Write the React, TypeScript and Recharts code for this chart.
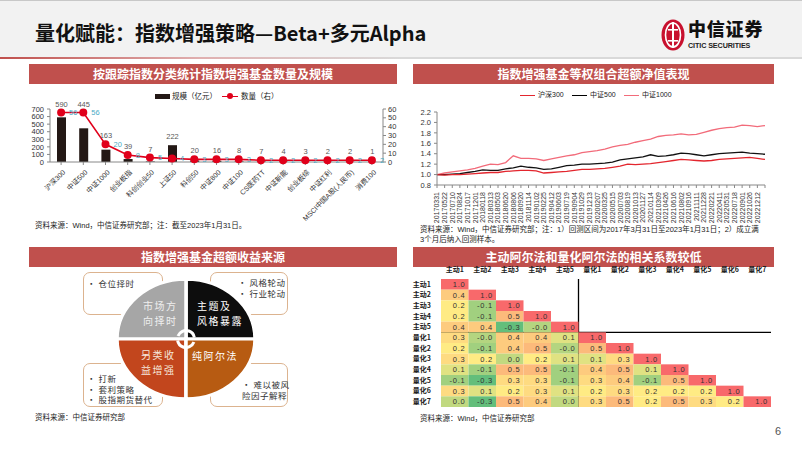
import React from 'react';
import {
  ComposedChart, Bar, Line, XAxis, YAxis, LineChart, ScatterChart, Scatter,
  PieChart, Pie, Cell, ReferenceLine, LabelList,
} from 'recharts';

const FONT = '"Liberation Sans", "Noto Sans CJK SC", sans-serif';
const CJK = '"Noto Sans CJK SC", "Liberation Sans", sans-serif';
const BAND = '#c0504d';

// ---- panel 1: funds by tracked index ----
const indexNames = ['沪深300', '中证500', '中证1000', '创业板指', '科创创业50', '上证50', '科创50', '中证800', '中证100', 'CS医药TT', '中证新能', '创业板综', '中证红利', 'MSCI中国A股(人民币)', '消费100'];
const fundScale = [590, 445, 163, 39, 7, 222, 20, 16, 8, 7, 4, 3, 2, 2, 1];
const fundCount = [56, 56, 20, 8, 5, 4, 3, 3, 3, 2, 2, 2, 2, 2, 2];
const scaleTicks = [0, 100, 200, 300, 400, 500, 600, 700];
const countTicks = [0, 10, 20, 30, 40, 50, 60];

// ---- panel 2: equal-weight excess NAV ----
const navDates = ['20170331', '20170522', '20170710', '20170824', '20171017', '20171201', '20180118', '20180313', '20180503', '20180620', '20180806', '20180920', '20181114', '20190102', '20190225', '20190412', '20190603', '20190719', '20190904', '20191029', '20191213', '20200207', '20200325', '20200515', '20200703', '20200819', '20201013', '20201127', '20210114', '20210309', '20210426', '20210616', '20210802', '20210916', '20211111', '20211228', '20220221', '20220411', '20220531', '20220718', '20220901', '20221026', '20221212', '20230131'];
const navHs300 = [1.00, 0.99, 1.00, 1.00, 1.01, 1.02, 1.03, 1.04, 1.04, 1.06, 1.07, 1.08, 1.08, 1.07, 1.03, 1.04, 1.05, 1.06, 1.08, 1.10, 1.10, 1.11, 1.12, 1.14, 1.16, 1.20, 1.19, 1.20, 1.21, 1.23, 1.25, 1.27, 1.29, 1.28, 1.27, 1.26, 1.27, 1.29, 1.30, 1.31, 1.32, 1.33, 1.31, 1.29];
const navZz500 = [1.00, 1.00, 1.01, 1.02, 1.04, 1.06, 1.09, 1.08, 1.08, 1.11, 1.13, 1.16, 1.14, 1.13, 1.10, 1.11, 1.14, 1.17, 1.18, 1.20, 1.20, 1.21, 1.22, 1.24, 1.28, 1.30, 1.32, 1.34, 1.38, 1.35, 1.36, 1.38, 1.41, 1.40, 1.38, 1.36, 1.38, 1.40, 1.41, 1.42, 1.43, 1.41, 1.40, 1.39];
const navZz1000 = [1.00, 1.03, 1.05, 1.07, 1.09, 1.12, 1.16, 1.20, 1.19, 1.23, 1.36, 1.31, 1.31, 1.30, 1.27, 1.30, 1.33, 1.36, 1.38, 1.42, 1.44, 1.46, 1.49, 1.53, 1.56, 1.58, 1.62, 1.65, 1.68, 1.73, 1.75, 1.76, 1.78, 1.76, 1.77, 1.81, 1.85, 1.88, 1.90, 1.91, 1.95, 1.94, 1.92, 1.94];
const navTicks = [0.8, 1.0, 1.2, 1.4, 1.6, 1.8, 2.0, 2.2];

// ---- panel 3: sources of excess return ----
const quadrants = ['主题及风格暴露', '市场方向择时', '另类收益增强', '纯阿尔法'];
const quadrantShare = [1, 1, 1, 1];
const quadrantColors = ['#0d0d0d', '#a6a6a6', '#c2461d', '#b75b12'];

// ---- panel 4: correlation matrix ----
const fundLabels = ['主动1', '主动2', '主动3', '主动4', '主动5', '量化1', '量化2', '量化3', '量化4', '量化5', '量化6', '量化7'];
const corrRows = [
  [1.0],
  [0.4, 1.0],
  [0.2, -0.1, 1.0],
  [0.2, -0.1, 0.5, 1.0],
  [0.4, 0.4, -0.3, -0.04, 1.0],
  [0.3, -0.04, 0.4, 0.4, 0.1, 1.0],
  [0.2, -0.1, 0.4, 0.5, -0.04, 0.5, 1.0],
  [0.3, 0.2, 0.0, 0.2, 0.1, 0.1, 0.3, 1.0],
  [0.1, -0.1, 0.5, 0.5, -0.1, 0.4, 0.5, 0.1, 1.0],
  [-0.1, -0.3, 0.3, 0.3, -0.1, 0.3, 0.4, -0.1, 0.5, 1.0],
  [0.3, 0.1, 0.2, 0.3, 0.1, 0.2, 0.3, 0.2, 0.2, 0.2, 1.0],
  [0.0, -0.3, 0.5, 0.4, 0.0, 0.3, 0.5, 0.2, 0.5, 0.3, 0.2, 1.0],
];

const barData = indexNames.map((name, i) => ({ name, scale: fundScale[i], count: fundCount[i] }));
const navData = navDates.map((date, i) => ({ date, hs300: navHs300[i], zz500: navZz500[i], zz1000: navZz1000[i] }));
const corrData = corrRows.flatMap((row, r) => row.map((v, c) => ({ x: c + 0.5, y: r + 0.5, v })));
const pieData = quadrants.map((name, i) => ({ name, value: quadrantShare[i] }));

// bar chart geometry
const B_W = 385, B_H = 138, B_TOP = 21, B_XH = 64;
const B_PH = B_H - B_TOP - B_XH;

// heatmap geometry
const H_W = 371, H_H = 145, H_YW = 36, H_XH = 12, H_MT = 5, H_MR = 5;
const CELL_W = (H_W - H_YW - H_MR) / 12;
const CELL_H = (H_H - H_MT - H_XH) / 12;

const mix = (a: number[], b: number[], t: number) =>
  `rgb(${a.map((v, i) => Math.round(v + (b[i] - v) * t)).join(',')})`;
const heatColor = (v: number) => {
  const green = [99, 190, 123], yellow = [255, 235, 132], red = [248, 105, 107];
  const mid = 0.2;
  if (v <= mid) return mix(green, yellow, (v + 0.3) / (mid + 0.3));
  return mix(yellow, red, (v - mid) / (1 - mid));
};

const abs = (left: number, top: number, extra: React.CSSProperties = {}): React.CSSProperties => ({
  position: 'absolute', left, top, ...extra,
});

const Band = ({ left, top, width, text }: { left: number; top: number; width: number; text: string }) => (
  <div style={abs(left, top, { width, height: 20, background: BAND, color: '#fff', fontFamily: CJK, fontWeight: 700, fontSize: 12, lineHeight: '20px', textAlign: 'center' })}>
    {text}
  </div>
);

const Note = ({ left, top, children }: { left: number; top: number; children: React.ReactNode }) => (
  <div style={abs(left, top, { fontFamily: FONT, fontSize: 7.5, color: '#222', lineHeight: '10px', whiteSpace: 'nowrap' })}>{children}</div>
);

const IndexTick = ({ x, y, payload }: any) => (
  <g transform={`translate(${x + 3},${y + 4}) rotate(-45)`}>
    <text x={0} y={0} dy="0.35em" textAnchor="end" fontSize={7} fill="#333" fontFamily={FONT}>{payload.value}</text>
  </g>
);

const DateTick = ({ x, y, payload, index }: any) =>
  index === navDates.length - 1 ? null : (
    <g transform={`translate(${x},${y + 2}) rotate(-90)`}>
      <text x={0} y={0} dy="0.35em" textAnchor="end" fontSize={7} fill="#333" fontFamily={FONT}>{payload.value}</text>
    </g>
  );

const ScaleLabel = (props: any) => {
  const { x, y, width, value, index } = props;
  const pointY = B_TOP + (1 - fundCount[index] / 60) * B_PH;
  return (
    <text x={x + width / 2} y={Math.min(y, pointY) - 6} textAnchor="middle" fontSize={7.5} fill="#595959" fontFamily={FONT}>{value}</text>
  );
};

const CountLabel = (props: any) => {
  const { x, y, value } = props;
  return (
    <text x={x + 8} y={y} dy="0.35em" fontSize={7.5} fill="#4bacc6" fontFamily={FONT}>{value}</text>
  );
};

const HeatCell = (props: any) => {
  const { cx, cy, payload } = props;
  if (cx == null || cy == null) return null;
  return (
    <g>
      <rect x={cx - CELL_W / 2} y={cy - CELL_H / 2} width={CELL_W} height={CELL_H} fill={heatColor(payload.v)} />
      <text x={cx + CELL_W / 2 - 3} y={cy} dy="0.36em" textAnchor="end" fontSize={7.5} fill="#333" fontFamily={FONT} letterSpacing={0.8}>
        {payload.v.toFixed(1)}
      </text>
    </g>
  );
};

const Logo = () => (
  <svg width={26} height={34} style={abs(660, 18)}>
    <ellipse cx={13} cy={17} rx={11.5} ry={15.5} fill="#c8102e" />
    <ellipse cx={13} cy={17} rx={7.5} ry={12} fill="none" stroke="#fff" strokeWidth={1.6} />
    <rect x={12} y={4} width={2} height={26} fill="#fff" />
    <rect x={8} y={11} width={10} height={1.6} fill="#fff" />
    <rect x={8} y={22} width={10} height={1.6} fill="#fff" />
  </svg>
);

const qText = (left: number, top: number, color: string, lines: string[]) => (
  <div style={abs(left, top, { fontFamily: CJK, fontSize: 10, letterSpacing: 1.5, lineHeight: '15px', color, whiteSpace: 'nowrap' })}>
    {lines.map((l) => <div key={l}>{l}</div>)}
  </div>
);

const boxStyle = (left: number, top: number, width: number, height: number): React.CSSProperties =>
  abs(left, top, { width, height, border: '1.2px solid #dcb38f', borderRadius: 7, background: '#fff', boxSizing: 'border-box' });

const boxText = (left: number, top: number, lines: string[]) => (
  <div style={abs(left, top, { fontFamily: CJK, fontSize: 8.5, lineHeight: '10.5px', color: '#333', whiteSpace: 'nowrap', letterSpacing: 0.5 })}>
    {lines.map((l) => <div key={l}>{l}</div>)}
  </div>
);

export default function App() {
  return (
    <div style={{ position: 'absolute', left: 0, top: 0, width: 802, height: 451, background: '#fff', overflow: 'hidden', fontFamily: FONT }}>
      {/* header */}
      <div style={abs(0, 0, { width: 802, height: 57, background: '#f2f2f2', borderTop: '1px solid #c8c8c8', boxSizing: 'border-box' })} />
      <div style={abs(0, 57, { width: 802, height: 2, background: 'linear-gradient(to right, #c0504d, #e0b0b0 25%, #d9d9d9 50%, #d9d9d9)' })} />
      <div style={abs(35, 21, { fontFamily: CJK, fontWeight: 700, fontSize: 20, lineHeight: '24px', color: '#111', whiteSpace: 'nowrap' })}>
        量化赋能：指数增强策略—Beta+多元Alpha
      </div>
      <Logo />
      <div style={abs(688, 17, { fontFamily: CJK, fontWeight: 900, fontSize: 18, lineHeight: '22px', color: '#111', letterSpacing: 0.8 })}>中信证券</div>
      <div style={abs(688, 41, { fontFamily: FONT, fontWeight: 700, fontSize: 7.2, lineHeight: '9px', color: '#222', letterSpacing: -0.1 })}>CITIC SECURITIES</div>

      {/* panel 1 */}
      <Band left={29} top={64} width={368} text="按跟踪指数分类统计指数增强基金数量及规模" />
      <div style={abs(155, 94, { width: 15, height: 5, background: '#231815' })} />
      <div style={abs(172, 91, { fontFamily: CJK, fontSize: 7.5, lineHeight: '10px', color: '#222' })}>规模（亿元）</div>
      <div style={abs(222, 95.5, { width: 16, height: 1.6, background: '#e0001b' })} />
      <div style={abs(227, 93, { width: 6, height: 6, borderRadius: 3, background: '#e0001b' })} />
      <div style={abs(241, 91, { fontFamily: CJK, fontSize: 7.5, lineHeight: '10px', color: '#222' })}>数量（右）</div>
      <div style={abs(20, 88)}>
        <ComposedChart width={B_W} height={B_H} data={barData} margin={{ top: B_TOP, right: 0, left: 0, bottom: 0 }}>
          <XAxis dataKey="name" height={B_XH} interval={0} tick={<IndexTick />} axisLine={{ stroke: '#888' }} tickLine={{ stroke: '#888' }} tickSize={3} />
          <YAxis yAxisId="l" width={30} domain={[0, 700]} ticks={scaleTicks} interval={0} tick={{ fontSize: 7.5, fill: '#333', fontFamily: FONT }} axisLine={{ stroke: '#888' }} tickLine={{ stroke: '#888' }} tickSize={3} tickMargin={3} />
          <YAxis yAxisId="r" orientation="right" width={22} domain={[0, 60]} ticks={countTicks} interval={0} tick={{ fontSize: 7.5, fill: '#333', fontFamily: FONT }} axisLine={{ stroke: '#888' }} tickLine={{ stroke: '#888' }} tickSize={3} tickMargin={2} />
          <Bar yAxisId="l" dataKey="scale" fill="#231815" barSize={9} isAnimationActive={false}>
            <LabelList dataKey="scale" content={<ScaleLabel />} />
          </Bar>
          <Line yAxisId="r" dataKey="count" stroke="#e0001b" strokeWidth={1.6} dot={{ r: 3.2, fill: '#e0001b', stroke: '#e0001b' }} isAnimationActive={false}>
            <LabelList dataKey="count" content={<CountLabel />} />
          </Line>
        </ComposedChart>
      </div>
      <Note left={35} top={221}>资料来源：Wind，中信证券研究部；注：截至2023年1月31日。</Note>

      {/* panel 2 */}
      <Band left={413} top={64} width={361} text="指数增强基金等权组合超额净值表现" />
      <div style={abs(520, 94.5, { width: 15, height: 1.6, background: '#e3262e' })} />
      <div style={abs(538, 90, { fontSize: 7, lineHeight: '10px', color: '#222', fontFamily: FONT })}>沪深300</div>
      <div style={abs(572, 94.5, { width: 15, height: 1.6, background: '#000' })} />
      <div style={abs(590, 90, { fontSize: 7, lineHeight: '10px', color: '#222', fontFamily: FONT })}>中证500</div>
      <div style={abs(624, 94.5, { width: 15, height: 1.6, background: '#f26b7a' })} />
      <div style={abs(642, 90, { fontSize: 7, lineHeight: '10px', color: '#222', fontFamily: FONT })}>中证1000</div>
      <div style={abs(405, 100)}>
        <LineChart width={370} height={126} data={navData} margin={{ top: 12, right: 10, left: 0, bottom: 0 }}>
          <XAxis dataKey="date" height={41} interval={0} tick={<DateTick />} axisLine={{ stroke: '#888' }} tickLine={{ stroke: '#888' }} tickSize={3} />
          <YAxis width={32} domain={[0.8, 2.2]} ticks={navTicks} interval={0} tickFormatter={(v: number) => v.toFixed(1)} tick={{ fontSize: 7.5, fill: '#333', fontFamily: FONT }} axisLine={{ stroke: '#888' }} tickLine={{ stroke: '#888' }} tickSize={3} tickMargin={3} />
          <Line dataKey="zz1000" stroke="#f26b7a" strokeWidth={1.3} dot={false} isAnimationActive={false} />
          <Line dataKey="zz500" stroke="#111" strokeWidth={1.3} dot={false} isAnimationActive={false} />
          <Line dataKey="hs300" stroke="#e3262e" strokeWidth={1.3} dot={false} isAnimationActive={false} />
        </LineChart>
      </div>
      <Note left={420} top={225}>
        资料来源：Wind，中信证券研究部；注：1）回测区间为2017年3月31日至2023年1月31日；2）成立满<br />3个月后纳入回测样本。
      </Note>

      {/* panel 3 */}
      <Band left={29} top={247} width={368} text="指数增强基金超额收益来源" />
      <div style={boxStyle(83, 272, 80, 43)} />
      <div style={boxStyle(210, 272, 78, 43)} />
      <div style={boxStyle(83, 363, 80, 44)} />
      <div style={boxStyle(210, 363, 78, 44)} />
      {boxText(87, 278, ['· 仓位择时'])}
      {boxText(238, 277, ['· 风格轮动', '· 行业轮动'])}
      {boxText(87, 373, ['· 打新', '· 套利策略', '· 股指期货替代'])}
      {boxText(242, 379, ['· 难以被风', '  险因子解释'])}
      <div style={abs(116, 269, { width: 140, height: 140, transform: 'scaleY(0.865)', transformOrigin: '50% 50%' })}>
        <PieChart width={140} height={140} margin={{ top: 0, right: 0, bottom: 0, left: 0 }}>
          <Pie data={pieData} dataKey="value" cx={70} cy={70} outerRadius={69} innerRadius={0} startAngle={0} endAngle={360} stroke="#fff" strokeWidth={3.5} isAnimationActive={false}>
            {pieData.map((d, i) => <Cell key={d.name} fill={quadrantColors[i]} />)}
          </Pie>
        </PieChart>
      </div>
      <svg width={24} height={24} style={abs(174, 327)}>
        <circle cx={12} cy={12} r={8.5} fill="none" stroke="#fff" strokeWidth={3} strokeDasharray="22 4.7" transform="rotate(200 12 12)" />
      </svg>
      {qText(143, 298, '#eeeeee', ['市场方', '向择时'])}
      {qText(197, 298, '#ffffff', ['主题及', '风格暴露'])}
      {qText(141, 347, '#f6e6dc', ['另类收', '益增强'])}
      {qText(192, 348, '#ffffff', ['纯阿尔法'])}
      <Note left={35} top={413}>资料来源：中信证券研究部</Note>

      {/* panel 4 */}
      <Band left={413} top={247} width={361} text="主动阿尔法和量化阿尔法的相关系数较低" />
      <div style={abs(405, 262)}>
        <ScatterChart width={H_W} height={H_H} margin={{ top: H_MT, right: H_MR, left: 0, bottom: 0 }}>
          <XAxis type="number" dataKey="x" orientation="top" height={H_XH} domain={[0, 12]} ticks={fundLabels.map((_, i) => i + 0.5)} interval={0}
            tickFormatter={(v: number) => fundLabels[Math.floor(v)]} axisLine={false} tickLine={false} tickMargin={1}
            tick={{ fontSize: 7, fontWeight: 700, fill: '#222', fontFamily: CJK }} />
          <YAxis type="number" dataKey="y" width={H_YW} reversed domain={[0, 12]} ticks={fundLabels.map((_, i) => i + 0.5)} interval={0}
            tickFormatter={(v: number) => fundLabels[Math.floor(v)]} axisLine={false} tickLine={false} tickMargin={4}
            tick={{ fontSize: 7, fontWeight: 700, fill: '#222', fontFamily: CJK }} />
          <Scatter data={corrData} shape={<HeatCell />} isAnimationActive={false} />
          <ReferenceLine x={5} stroke="#000" strokeWidth={1.3} />
          <ReferenceLine y={5} stroke="#000" strokeWidth={1.3} />
        </ScatterChart>
      </div>
      <Note left={420} top={414}>资料来源：Wind，中信证券研究部</Note>

      <div style={abs(775, 425, { fontSize: 11, color: '#555', fontFamily: FONT })}>6</div>
    </div>
  );
}
